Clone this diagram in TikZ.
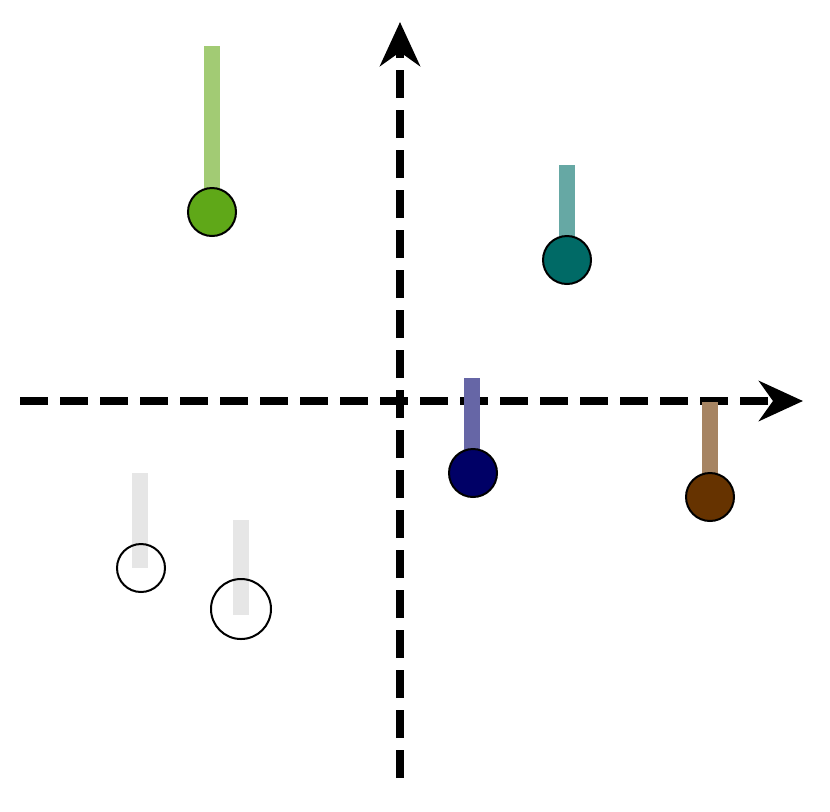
\documentclass[tikz,border=0pt]{standalone}
\usepackage{xcolor}
\usepackage{tikz}
\usetikzlibrary{positioning,arrows.meta}
\definecolor{grn}{HTML}{5FA818}
\definecolor{grnbar}{HTML}{A2CB74}
\definecolor{tea}{HTML}{006A66}
\definecolor{teabar}{HTML}{66A8A4}
\definecolor{nav}{HTML}{000066}
\definecolor{navbar}{HTML}{6666A6}
\definecolor{brn}{HTML}{663300}
\definecolor{brnbar}{HTML}{A68462}
\definecolor{gry}{HTML}{E6E6E6}
\tikzset{
  axis/.style={line width=4pt,dash pattern=on 14pt off 6pt,-{Stealth[length=22pt,width=20pt,inset=7pt]}},
  bar/.style={line width=8pt},
  dot/.style={circle,draw,line width=1pt,minimum size=24pt,inner sep=0pt},
}
\begin{document}
\begin{tikzpicture}[x=0.5pt,y=-0.5pt]
\useasboundingbox (0,0) rectangle (830,811);
% axes
\coordinate (xs) at (20,401);
\coordinate (xe) at (803,401);
\coordinate (ys) at (400,778);
\coordinate (ye) at (400,22);
\draw[axis] (xs) -- (xe);
\draw[axis] (ys) -- (ye);
% bars
\coordinate (G) at (212,46);
\coordinate (T) at (567,165);
\coordinate (N) at (472,378);
\coordinate (B) at (710,402);
\coordinate (W1) at (140,473);
\coordinate (W2) at (241,520);
\draw[bar,grnbar] (G) -- (212,212);
\draw[bar,teabar] (T) -- (567,260);
\draw[bar,navbar] (N) -- (472,473);
\draw[bar,brnbar] (B) -- (710,497);
\draw[bar,gry] (W1) -- (140,568);
\draw[bar,gry] (W2) -- (241,615);
% points
\node[dot,fill=grn] (g) at (212,212) {};
\node[dot,fill=tea] (t) at (567,260) {};
\node[dot,fill=nav] (n) at (473,473) {};
\node[dot,fill=brn] (b) at (710,497) {};
\node[dot] (w1) at (141,568) {};
\node[dot,minimum size=30pt] (w2) at (241,609) {};
\end{tikzpicture}
\end{document}
